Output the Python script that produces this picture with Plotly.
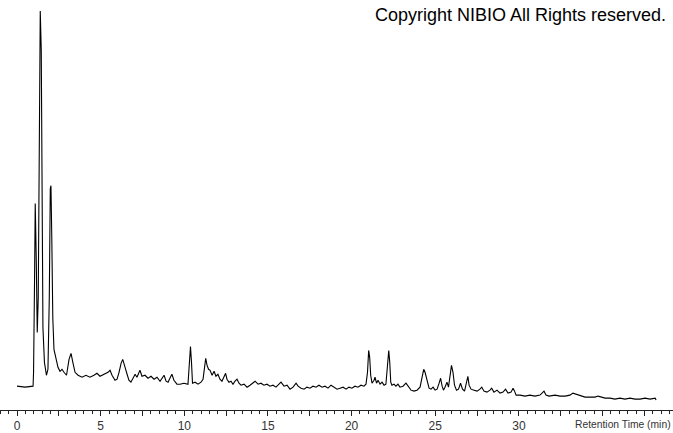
import plotly.graph_objects as go

# Retention time (min)
time_min = [
    0.00, 0.48, 0.96, 0.99, 1.05, 1.09, 1.15, 1.21, 1.27, 1.33, 1.39, 1.45, 1.49, 1.55, 1.64, 1.76,
    1.85, 1.93, 1.99, 2.03, 2.08, 2.14, 2.21, 2.33, 2.45, 2.57, 2.69, 2.81, 2.96, 3.11, 3.23, 3.35,
    3.47, 3.65, 3.89, 4.12, 4.36, 4.60, 4.78, 4.96, 5.20, 5.44, 5.56, 5.68, 5.86, 5.98, 6.10, 6.22,
    6.32, 6.40, 6.46, 6.58, 6.69, 6.81, 6.93, 7.06, 7.17, 7.35, 7.47, 7.65, 7.83, 8.01, 8.19, 8.37,
    8.55, 8.67, 8.79, 8.91, 9.03, 9.14, 9.26, 9.38, 9.56, 9.74, 9.98, 10.22, 10.30, 10.37, 10.43, 10.49,
    10.64, 10.82, 11.00, 11.12, 11.21, 11.28, 11.36, 11.45, 11.54, 11.66, 11.78, 11.89, 12.01, 12.13, 12.25, 12.37,
    12.47, 12.55, 12.67, 12.79, 12.91, 13.03, 13.15, 13.27, 13.39, 13.57, 13.75, 13.93, 14.11, 14.23, 14.41, 14.58,
    14.76, 14.94, 15.12, 15.30, 15.48, 15.66, 15.78, 15.96, 16.14, 16.32, 16.50, 16.68, 16.80, 16.98, 17.16, 17.33,
    17.51, 17.69, 17.87, 18.05, 18.23, 18.41, 18.59, 18.77, 18.95, 19.13, 19.31, 19.49, 19.67, 19.84, 20.02, 20.20,
    20.38, 20.56, 20.74, 20.86, 20.95, 21.02, 21.08, 21.14, 21.22, 21.34, 21.40, 21.49, 21.58, 21.70, 21.82, 21.94,
    22.05, 22.14, 22.22, 22.28, 22.34, 22.41, 22.53, 22.65, 22.77, 22.89, 23.07, 23.25, 23.37, 23.55, 23.73, 23.91,
    24.09, 24.21, 24.31, 24.39, 24.45, 24.54, 24.63, 24.75, 24.87, 24.99, 25.11, 25.23, 25.32, 25.41, 25.49, 25.58,
    25.70, 25.79, 25.88, 25.97, 26.06, 26.15, 26.27, 26.39, 26.51, 26.63, 26.75, 26.87, 26.95, 27.02, 27.14, 27.32,
    27.50, 27.67, 27.78, 27.91, 28.09, 28.27, 28.37, 28.51, 28.69, 28.87, 29.05, 29.20, 29.35, 29.53, 29.65, 29.74,
    29.83, 30.07, 30.36, 30.66, 30.96, 31.26, 31.41, 31.50, 31.62, 31.80, 32.16, 32.46, 32.76, 33.05, 33.23, 33.41,
    33.65, 33.95, 34.25, 34.55, 34.73, 34.91, 35.15, 35.45, 35.74, 36.04, 36.34, 36.64, 36.94, 37.24, 37.54, 37.84,
    38.14, 38.20,
]

# Detector response (arbitrary units)
intensity = [
    21, 20, 21, 35, 130, 205, 150, 75, 110, 260, 399, 360, 160, 80, 45, 32,
    38, 110, 220, 223, 170, 90, 58, 48, 40, 36, 38, 35, 32, 48, 54, 44,
    35, 32, 30, 32, 30, 32, 34, 31, 33, 35, 37, 32, 27, 28, 35, 44,
    48, 42, 40, 33, 27, 25, 29, 33, 30, 37, 31, 32, 29, 31, 28, 30,
    26, 29, 32, 26, 25, 29, 33, 27, 23, 23, 24, 23, 40, 61, 45, 24,
    25, 23, 25, 28, 40, 49, 42, 38, 37, 32, 36, 31, 33, 28, 26, 30,
    34, 28, 25, 26, 23, 26, 28, 24, 22, 23, 20, 22, 24, 26, 23, 24,
    22, 23, 21, 22, 20, 23, 25, 21, 22, 18, 20, 24, 21, 19, 18, 20,
    19, 21, 20, 22, 20, 21, 19, 22, 20, 18, 19, 20, 18, 20, 19, 21,
    20, 22, 21, 23, 35, 57, 50, 32, 24, 27, 30, 24, 27, 23, 25, 22,
    23, 40, 57, 45, 25, 22, 23, 21, 23, 20, 21, 24, 21, 17, 16, 17,
    20, 30, 38, 35, 31, 25, 19, 18, 20, 17, 18, 24, 29, 21, 17, 20,
    25, 20, 30, 42, 35, 22, 17, 18, 24, 18, 16, 24, 31, 22, 18, 17,
    16, 18, 20, 16, 15, 17, 19, 15, 17, 14, 15, 18, 14, 15, 19, 16,
    12, 12, 11, 12, 11, 12, 15, 16, 12, 11, 12, 11, 11, 12, 14, 13,
    11, 10, 10, 10, 11, 10, 9, 9, 8, 9, 8, 9, 8, 8, 9, 8,
    9, 7,
]

tick_vals = [0, 2.5, 5, 7.5, 10, 12.5, 15, 17.5, 20, 22.5, 25, 27.5, 30, 32.5, 35, 37.5]
tick_text = ["0", "", "5", "", "10", "", "15", "", "20", "", "25", "", "30", "", "", ""]

fig = go.Figure()
fig.add_trace(go.Scatter(
    x=time_min, y=intensity, mode="lines",
    line=dict(color="black", width=1.1),
    hoverinfo="skip", showlegend=False,
))

fig.update_layout(
    width=673, height=433,
    margin=dict(l=0, r=0, t=0, b=20),
    paper_bgcolor="white", plot_bgcolor="white",
    font=dict(family="Liberation Sans, Arial, sans-serif", color="#333333"),
    xaxis=dict(
        range=[-1.016, 39.21],
        showgrid=False, zeroline=False,
        showline=True, linecolor="#222222", linewidth=1,
        tickmode="array", tickvals=tick_vals, ticktext=tick_text,
        ticks="outside", ticklen=5, tickcolor="#222222", tickwidth=1,
        tickfont=dict(size=12, color="#333333"),
        minor=dict(dtick=0.5, tick0=0, ticks="outside", ticklen=3, tickcolor="#222222", tickwidth=1),
    ),
    yaxis=dict(range=[-3, 410], visible=False),
    annotations=[
        dict(text="Copyright NIBIO All Rights reserved.", xref="paper", yref="paper",
             x=0.992, y=1.0, yshift=-3, xanchor="right", yanchor="top", showarrow=False,
             font=dict(size=18, color="black", family="Liberation Sans, Arial, sans-serif")),
        dict(text="Retention Time (min)", xref="paper", yref="paper",
             x=1.0, y=0, yshift=-14, xanchor="right", yanchor="middle", showarrow=False,
             font=dict(size=10.3, color="#333333", family="Liberation Sans, Arial, sans-serif")),
    ],
)

fig.write_html(
    "out.html",
    config={"displayModeBar": False},
    post_script="document.body.style.margin='0';document.body.style.overflow='hidden';",
)
